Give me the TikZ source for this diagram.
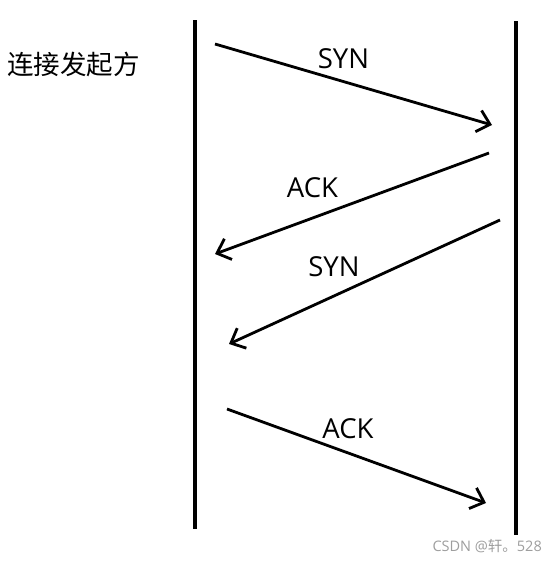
\documentclass[tikz,border=0pt]{standalone}
\usepackage{fontspec}
\setmainfont{Open Sans}
\newfontfamily\cjk{Noto Sans CJK SC}
\usetikzlibrary{arrows.meta}
\begin{document}
\begin{tikzpicture}[x=1pt,y=-1pt,
  lifeline/.style={line width=3.5pt},
  msg/.style={line width=2.8pt,-{Straight Barb[length=12pt,width=22pt,line width=2.8pt]}},
  lbl/.style={font=\fontsize{27.5}{32}\selectfont, inner sep=0pt},
  wm/.style={font=\fontsize{14.5}{17}\selectfont, text=black!38, inner sep=0pt}]
\useasboundingbox (0,0) rectangle (558,562);
\fill[white] (0,0) rectangle (558,562);
% lifelines
\coordinate (lt) at (195,20);
\coordinate (lb) at (195,529);
\coordinate (rt) at (516,21);
\coordinate (rb) at (516,535);
\draw[lifeline] (lt) -- (lb);
\draw[lifeline] (rt) -- (rb);
% title
\node[font=\cjk\fontsize{26.5}{30}\selectfont, inner sep=0pt] (who) at (73.5,64) {连接发起方};
% messages
\coordinate (s1) at (215,44);  \coordinate (e1) at (492,125);
\coordinate (s2) at (489,153); \coordinate (e2) at (215,254);
\coordinate (s3) at (500,220); \coordinate (e3) at (229,344);
\coordinate (s4) at (227,409); \coordinate (e4) at (486,503);
\draw[msg] (s1) -- (e1);
\draw[msg] (s2) -- (e2);
\draw[msg] (s3) -- (e3);
\draw[msg] (s4) -- (e4);
% labels
\node[lbl] (l1) at (343.5,59) {SYN};
\node[lbl] (l2) at (312.5,188) {ACK};
\node[lbl] (l3) at (334,267) {SYN};
\node[lbl] (l4) at (348,429) {ACK};
% watermark
\node[wm, anchor=east] (wmk) at (542,546) {CSDN @{\cjk 轩。}528};
\end{tikzpicture}
\end{document}
